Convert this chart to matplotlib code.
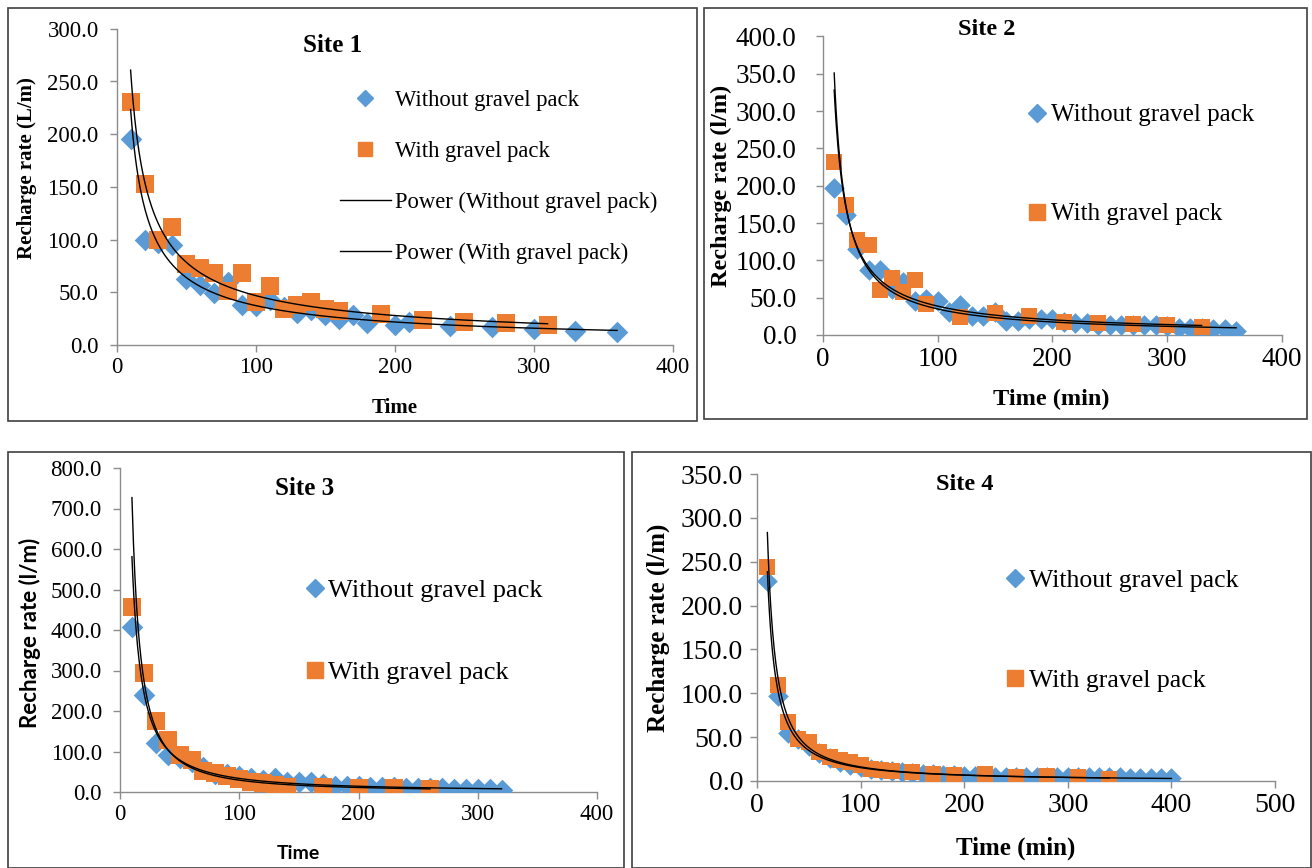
import numpy as np
import matplotlib
matplotlib.use("Agg")
import matplotlib.pyplot as plt
from matplotlib.lines import Line2D
from matplotlib.patches import Rectangle

W, H = 1312, 868
BLUE = "#5B9BD5"
ORANGE = "#ED7D31"
SERIF = "Liberation Serif"
SANS = "Lato"
AXIS_GRAY = "#8c8c8c"

# ---- data (time, recharge rate) ----
site1_without_x = [10, 20, 30, 40, 50, 60, 70, 80, 90, 100, 110, 120, 130, 140, 150, 160, 170, 180,
                   200, 210, 240, 270, 300, 330, 360]
site1_without_y = [195, 100, 97, 95, 63, 57, 49, 60, 38, 37, 43, 36, 30, 33, 28, 25, 28, 21,
                   19, 22, 18, 17, 15, 13, 12]
site1_with_x = [10, 20, 30, 40, 50, 60, 70, 80, 90, 100, 110, 120, 130, 140, 150, 160, 190, 220, 250, 280, 310]
site1_with_y = [231, 153, 100, 112, 77, 73, 68, 51, 68, 41, 56, 34, 38, 41, 34, 32, 29, 24, 22, 21, 19]

site2_without_x = list(range(10, 370, 10))
site2_without_y = [197, 161, 115, 87, 87, 62, 71, 45, 48, 45, 31, 40, 25, 25, 31, 19, 19, 21, 21, 21,
                   17, 16, 16, 14, 13, 13, 13, 13, 13, 12, 10, 10, 9, 8, 8, 6]
site2_with_x = [10, 20, 30, 40, 50, 60, 70, 80, 90, 120, 150, 180, 210, 240, 270, 300, 330]
site2_with_y = [232, 174, 127, 120, 60, 76, 58, 74, 42, 24, 29, 25, 18, 16, 15, 13, 11]

site3_without_x = list(range(10, 330, 10))
site3_without_y = [408, 239, 121, 92, 85, 75, 62, 45, 45, 40, 35, 30, 35, 25, 25, 25, 20, 16, 14, 14,
                   12, 12, 12, 10, 10, 10, 9, 8, 8, 7, 7, 6]
site3_with_x = [10, 20, 30, 40, 50, 60, 70, 80, 90, 100, 110, 120, 130, 140, 170, 200, 230, 260]
site3_with_y = [458, 293, 175, 129, 92, 79, 52, 46, 39, 33, 25, 21, 17, 13, 12, 10, 9, 8]

site4_without_x = list(range(10, 410, 10))
site4_without_y = [228, 97, 55, 48, 40, 32, 26, 22, 18, 16, 14, 12, 11, 10, 9, 8, 8, 7, 7, 6,
                   6, 6, 5, 5, 5, 5, 5, 4, 4, 4, 4, 4, 4, 4, 4, 3, 3, 3, 3, 3]
site4_with_x = [10, 20, 30, 40, 50, 60, 70, 80, 90, 100, 110, 120, 130, 150, 170, 190, 220, 250, 280, 310, 340]
site4_with_y = [244, 109, 67, 48, 44, 33, 27, 24, 22, 18, 14, 12, 11, 10, 8, 7, 8, 4, 6, 4, 2]

LABEL_WITHOUT = "Without gravel pack"
LABEL_WITH = "With gravel pack"


def px_rect(left, top, right, bottom):
    """pixel box (top-left origin) -> figure fraction [l, b, w, h]"""
    return [left / W, 1 - bottom / H, (right - left) / W, (bottom - top) / H]


def power_fit(x, y):
    """Excel-like power trendline: least squares in log-log space"""
    b, ln_a = np.polyfit(np.log(x), np.log(y), 1)
    xs = np.linspace(min(x), max(x), 400)
    return xs, np.exp(ln_a) * xs ** b


def panel(fig, cfg):
    ax = fig.add_axes(px_rect(*cfg["axes_px"]))
    ax.scatter(cfg["wo_x"], cfg["wo_y"], marker="D", s=cfg["d_size"] ** 2, color=BLUE, zorder=3, linewidths=0)
    ax.scatter(cfg["w_x"], cfg["w_y"], marker="s", s=cfg["s_size"] ** 2, color=ORANGE, zorder=3, linewidths=0)
    for x, y in ((cfg["wo_x"], cfg["wo_y"]), (cfg["w_x"], cfg["w_y"])):
        xs, ys = power_fit(x, y)
        ax.plot(xs, ys, color="black", lw=1.0, zorder=4)

    ax.set_xlim(0, cfg["xmax"])
    ax.set_ylim(0, cfg["ymax"])
    ax.set_xticks(np.arange(0, cfg["xmax"] + 1, 100))
    ax.set_yticks(np.arange(0, cfg["ymax"] + 1, cfg["ystep"]))
    ax.set_yticklabels([f"{v:.1f}" for v in ax.get_yticks()])
    for side in ("top", "right"):
        ax.spines[side].set_visible(False)
    for side in ("left", "bottom"):
        ax.spines[side].set_color(AXIS_GRAY)
        ax.spines[side].set_linewidth(1.0)
    ax.tick_params(direction="out", length=5, color=AXIS_GRAY, width=1.0, labelsize=cfg["tick_fs"])
    ax.tick_params(axis="y", pad=cfg["ypad"])
    for lab in ax.get_xticklabels() + ax.get_yticklabels():
        lab.set_fontfamily(SERIF)

    ax.set_title(cfg["title"], fontfamily=SERIF, fontweight="bold", fontsize=cfg["title_fs"],
                 x=cfg["title_xy"][0], y=cfg["title_xy"][1], va="center")
    ax.set_xlabel(cfg["xlabel"], fontfamily=cfg["label_font"], fontweight="bold", fontsize=cfg["xlabel_fs"])
    ax.set_ylabel(cfg["ylabel"], fontfamily=cfg["label_font"], fontweight="bold", fontsize=cfg["ylabel_fs"])
    ax.xaxis.set_label_coords(*cfg["xlabel_xy"])
    ax.yaxis.set_label_coords(*cfg["ylabel_xy"])

    handles = [Line2D([], [], ls="none", marker="D", ms=cfg["leg_ms"] * 0.8, color=BLUE),
               Line2D([], [], ls="none", marker="s", ms=cfg["leg_ms"], color=ORANGE)]
    labels = [LABEL_WITHOUT, LABEL_WITH]
    if cfg["trend_legend"]:
        handles += [Line2D([], [], color="black", lw=1.0), Line2D([], [], color="black", lw=1.0)]
        labels += ["Power (" + LABEL_WITHOUT + ")", "Power (" + LABEL_WITH + ")"]
    lx, ly = cfg["legend_px"]
    ax.legend(handles, labels, loc="upper left", bbox_to_anchor=(lx / W, 1 - ly / H),
              bbox_transform=fig.transFigure, frameon=False, borderpad=0, borderaxespad=0,
              prop={"family": SERIF, "size": cfg["leg_fs"]}, labelspacing=cfg["leg_space"],
              handlelength=cfg["handle_len"], handletextpad=cfg["handle_pad"])
    return ax


def main():
    fig = plt.figure(figsize=(W / 100, H / 100), dpi=100)

    # panel frames
    for box in ((8, 8, 697, 421), (704, 8, 1307, 419), (8, 452, 624, 868), (632, 452, 1311, 868)):
        fig.add_artist(Rectangle((box[0] / W, 1 - box[3] / H), (box[2] - box[0]) / W, (box[3] - box[1]) / H,
                                 transform=fig.transFigure, fill=False, edgecolor="#404040", lw=1.2))

    panels = [
        dict(axes_px=(116.7, 28.8, 672.7, 345), wo_x=site1_without_x, wo_y=site1_without_y,
             w_x=site1_with_x, w_y=site1_with_y, xmax=400, ymax=300, ystep=50, d_size=11, s_size=12.5,
             tick_fs=16.5, ypad=8, title="Site 1", title_fs=18, title_xy=(0.389, 0.922),
             xlabel="Time", ylabel="Recharge rate (L/m)", label_font=SERIF, xlabel_fs=15, ylabel_fs=15,
             xlabel_xy=(0.5, -0.168), ylabel_xy=(-0.143, 0.56),
             trend_legend=True, legend_px=(340, 90), leg_fs=16.3, leg_ms=10, leg_space=1.32,
             handle_len=2.24, handle_pad=0.2),
        dict(axes_px=(822.7, 36.4, 1282, 335), wo_x=site2_without_x, wo_y=site2_without_y,
             w_x=site2_with_x, w_y=site2_with_y, xmax=400, ymax=400, ystep=50, d_size=10.5, s_size=12,
             tick_fs=19.5, ypad=14, title="Site 2", title_fs=17.5, title_xy=(0.358, 0.995),
             xlabel="Time (min)", ylabel="Recharge rate (l/m)", label_font=SERIF, xlabel_fs=17.5, ylabel_fs=17.5,
             xlabel_xy=(0.497, -0.182), ylabel_xy=(-0.197, 0.5),
             trend_legend=False, legend_px=(1028, 104), leg_fs=18, leg_ms=11, leg_space=3.05,
             handle_len=0.7, handle_pad=0.21),
        dict(axes_px=(120, 468, 597, 792), wo_x=site3_without_x, wo_y=site3_without_y,
             w_x=site3_with_x, w_y=site3_with_y, xmax=400, ymax=800, ystep=100, d_size=11, s_size=12.5,
             tick_fs=16.5, ypad=8, title="Site 3", title_fs=18, title_xy=(0.386, 0.91),
             xlabel="Time", ylabel="Recharge rate (l/m)", label_font=SANS, xlabel_fs=14, ylabel_fs=16,
             xlabel_xy=(0.373, -0.165), ylabel_xy=(-0.165, 0.49),
             trend_legend=False, legend_px=(306, 579), leg_fs=19, leg_ms=11, leg_space=2.2,
             handle_len=0.65, handle_pad=0.2),
        dict(axes_px=(757, 474, 1275, 781), wo_x=site4_without_x, wo_y=site4_without_y,
             w_x=site4_with_x, w_y=site4_with_y, xmax=500, ymax=350, ystep=50, d_size=10.5, s_size=12,
             tick_fs=20, ypad=5, title="Site 4", title_fs=17.5, title_xy=(0.402, 0.94),
             xlabel="Time (min)", ylabel="Recharge rate (l/m)", label_font=SERIF, xlabel_fs=18, ylabel_fs=18,
             xlabel_xy=(0.5, -0.182), ylabel_xy=(-0.168, 0.5),
             trend_legend=False, legend_px=(1006, 569), leg_fs=18.5, leg_ms=11, leg_space=3.0,
             handle_len=0.68, handle_pad=0.21),
    ]
    for cfg in panels:
        panel(fig, cfg)

    fig.savefig("out.png", dpi=100, facecolor="white")


if __name__ == "__main__":
    main()
